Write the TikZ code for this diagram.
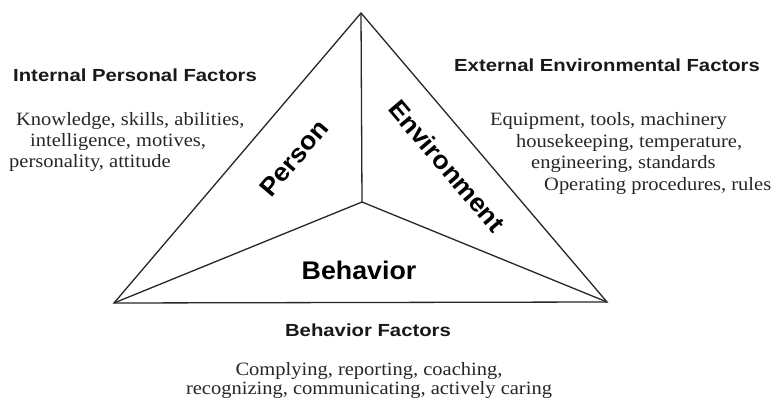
\documentclass[tikz,border=0pt]{standalone}
\usepackage{fontspec}
\newfontfamily\hdfont{Liberation Sans}[FakeStretch=1.16]
\newfontfamily\labfont{Liberation Sans}[FakeStretch=1.05]
\newfontfamily\txfont{Liberation Serif}[FakeStretch=1.09]
\begin{document}
\begin{tikzpicture}[x=1pt,y=-1pt,
  edge/.style={line width=1.3pt, draw=black!85, line join=miter},
  head/.style={font=\hdfont\bfseries\fontsize{17.5}{20}\selectfont, inner sep=0pt, text=black!90},
  body/.style={font=\txfont\fontsize{18.8}{21}\selectfont, inner sep=0pt, text=black!85},
  lab/.style={font=\labfont\bfseries\fontsize{25.5}{30}\selectfont, inner sep=0pt, text=black}]
\useasboundingbox (0,0) rectangle (774,403);
\coordinate (A) at (361,13);
\coordinate (L) at (114,303);
\coordinate (R) at (607,302);
\coordinate (C) at (362,202);
\draw[edge] (A) -- (L) -- (R) -- cycle;
\draw[edge] (A) -- (C) -- (L);
\draw[edge] (C) -- (R);
% labels in triangle
\node[lab, rotate=49.6] (person) at (294,158) {Person};
\node[lab, rotate=-49.6] (env) at (447,166) {Environment};
\node[lab, anchor=base] (beh) at (359,280) {Behavior};
% left block
\node[head, anchor=base west] (ipf) at (13,82) {Internal Personal Factors};
\node[body, anchor=base west] (l1) at (16,126) {Knowledge, skills, abilities,};
\node[body, anchor=base west] (l2) at (30,147) {intelligence, motives,};
\node[body, anchor=base west] (l3) at (9,168) {personality, attitude};
% right block
\node[head, anchor=base west] (eef) at (454,72) {External Environmental Factors};
\node[body, anchor=base west] (r1) at (490,126) {Equipment, tools, machinery};
\node[body, anchor=base west] (r2) at (516,148) {housekeeping, temperature,};
\node[body, anchor=base west] (r3) at (531,169) {engineering, standards};
\node[body, anchor=base west] (r4) at (544,191) {Operating procedures, rules};
% bottom block
\node[head, anchor=base] (bf) at (368,337) {Behavior Factors};
\node[body, anchor=base] (b1) at (369,375) {Complying, reporting, coaching,};
\node[body, anchor=base] (b2) at (369,395) {recognizing, communicating, actively caring};
\end{tikzpicture}
\end{document}
